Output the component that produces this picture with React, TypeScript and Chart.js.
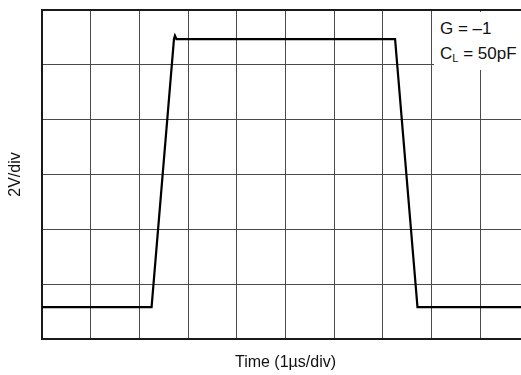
import React, { useEffect, useRef } from "react";
import { Chart, registerables } from "chart.js";

Chart.register(...registerables);

// Time in divisions (1 µs/div) and signal level in divisions (2 V/div)
const timeDiv = [0, 2.25, 2.71, 2.73, 2.76, 7.25, 7.71, 10];
const levelDiv = [0.58, 0.58, 5.47, 5.53, 5.47, 5.47, 0.58, 0.58];
const xTitle = "Time (1\u00B5s/div)";
const yTitle = "2V/div";
const gainText = "G = \u20131";
const loadPrefix = "C";
const loadSub = "L";
const loadText = " = 50pF";

const framePlugin = {
  id: "frame",
  beforeDatasetsDraw(chart: any) {
    const { ctx, chartArea } = chart;
    ctx.save();
    ctx.strokeStyle = "#1a1a1a";
    ctx.lineWidth = 2;
    ctx.strokeRect(chartArea.left, chartArea.top, chartArea.right - chartArea.left, chartArea.bottom - chartArea.top);
    ctx.restore();
  },
};

export default function App() {
  const ref = useRef<HTMLCanvasElement>(null);
  useEffect(() => {
    document.body.style.margin = "0";
    const chart = new Chart(ref.current!, {
      type: "line",
      data: {
        datasets: [
          {
            data: timeDiv.map((t, i) => ({ x: t, y: levelDiv[i] })),
            borderColor: "#000",
            borderWidth: 2.2,
            pointRadius: 0,
            tension: 0,
            fill: false,
          },
        ],
      },
      options: {
        animation: false,
        responsive: false,
        events: [],
        layout: { autoPadding: false, padding: { left: 0, top: 10, right: 2, bottom: 0 } },
        plugins: { legend: { display: false }, tooltip: { enabled: false } },
        scales: {
          x: {
            type: "linear",
            min: 0,
            max: 10,
            ticks: { display: false, stepSize: 1 },
            grid: { color: "#4a4a4a", lineWidth: 1, drawTicks: false },
            border: { display: false },
            title: {
              display: true,
              text: xTitle,
              color: "#111",
              font: { family: "Liberation Sans, Arial, sans-serif", size: 16 },
              padding: { top: 14.4, bottom: 2.4 },
            },
          },
          y: {
            type: "linear",
            min: 0,
            max: 6,
            ticks: { display: false, stepSize: 1 },
            grid: { color: "#4a4a4a", lineWidth: 1, drawTicks: false },
            border: { display: false },
            title: {
              display: true,
              text: yTitle,
              color: "#111",
              font: { family: "Liberation Sans, Arial, sans-serif", size: 16 },
              padding: { top: 6.4, bottom: 16.4 },
            },
          },
        },
      },
      plugins: [framePlugin],
    });
    return () => chart.destroy();
  }, []);

  const font = "Liberation Sans, Arial, sans-serif";
  return (
    <div style={{ position: "fixed", left: 0, top: 0, width: 521, height: 375, overflow: "hidden", background: "#fff" }}>
      <canvas ref={ref} width={531} height={375} style={{ position: "absolute", left: 0, top: 0 }} />
      <div style={{ position: "absolute", left: 434, top: 12, width: 100, height: 58, background: "#fff" }} />
      <div style={{ position: "absolute", left: 440, top: 19, font: `17px ${font}`, lineHeight: "20px", color: "#111", whiteSpace: "nowrap" }}>
        {gainText}
      </div>
      <div style={{ position: "absolute", left: 440, top: 44, font: `17px ${font}`, lineHeight: "20px", color: "#111", whiteSpace: "nowrap" }}>
        {loadPrefix}
        <sub style={{ fontSize: "11px", verticalAlign: "-3px", lineHeight: 0 }}>{loadSub}</sub>
        {loadText}
      </div>
    </div>
  );
}
